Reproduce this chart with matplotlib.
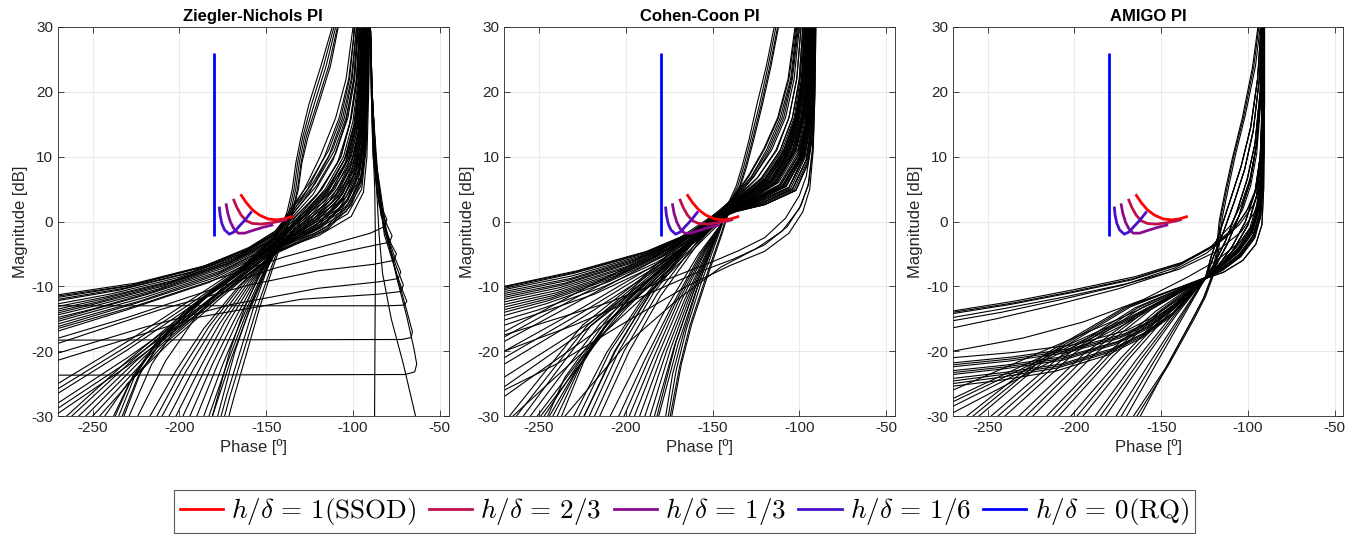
import matplotlib
matplotlib.use("Agg")
import matplotlib.pyplot as plt
from matplotlib.lines import Line2D

# ---------------- data (phase [deg], magnitude [dB]) ----------------
BOUND_LABELS = [r"$h/\delta\,=\,1(\mathrm{SSOD})$", r"$h/\delta\,=\,2/3$", r"$h/\delta\,=\,1/3$",
                r"$h/\delta\,=\,1/6$", r"$h/\delta\,=\,0(\mathrm{RQ})$"]
BOUND_COLORS = ["#FF0000", "#C0104A", "#8A0A90", "#4A10C8", "#0000FF"]
BOUND_1 = [(-164.8, 4.2), (-161.5, 2.9), (-158, 1.8), (-154, 1.0), (-149, 0.4), (-144, 0.25), (-139.5, 0.4), (-134.7, 0.8)]
BOUND_23 = [(-169, 3.5), (-167, 2.2), (-164.5, 1.0), (-161.5, 0.1), (-158, -0.3), (-153, -0.4), (-147, -0.2), (-142, 0.05), (-138.2, 0.3)]
BOUND_13 = [(-173.2, 2.8), (-172.2, 1.3), (-170.6, -0.1), (-168.5, -1.2), (-166.1, -1.8), (-162.5, -1.8), (-158, -1.4), (-152, -0.9), (-146, -0.5)]
BOUND_16 = [(-177.1, 2.3), (-176.6, 1.0), (-175.6, -0.3), (-174, -1.3), (-171.3, -1.95), (-168.5, -1.6), (-165.5, -0.7), (-162, 0.3), (-158.4, 1.55)]
BOUND_0 = [(-180, -2.3), (-180, 26)]

# ---- Ziegler-Nichols PI ----
ZN_S = [
    [(-100, 30), (-104, 22), (-110, 16), (-119, 10), (-128, 5), (-136, 1.5), (-145, -1.5), (-160, -4), (-185, -6.8), (-225, -9.5), (-270, -11.3)],
    [(-99, 30), (-102.5, 22), (-108, 16), (-116.5, 10), (-126.5, 4.8), (-135.5, 1.2), (-145, -1.6), (-161, -4.3), (-187, -7), (-227, -9.8), (-270, -11.5)],
    [(-98, 30), (-101, 22), (-106, 16), (-114, 10), (-125, 4.5), (-135, 1), (-145, -1.8), (-162, -4.5), (-190, -7.3), (-230, -10), (-270, -11.7)],
    [(-97, 30), (-99.5, 22), (-104, 15.5), (-111.5, 9.5), (-123, 4.2), (-134.5, 0.8), (-145, -1.9), (-163, -4.8), (-192, -7.7), (-232, -10.3), (-270, -12)],
    [(-96, 30), (-98, 22), (-102, 15), (-109, 9), (-121, 4), (-134, 0.6), (-145, -2), (-165, -5), (-195, -8), (-235, -10.6), (-270, -12.2)],
    [(-95, 30), (-96, 21), (-99, 14), (-105, 8.5), (-118, 3.5), (-133, 0.3), (-146, -2.3), (-168, -5.5), (-200, -8.6), (-240, -11.2), (-270, -12.7)],
    [(-94.5, 30), (-95.5, 20.5), (-98, 13.5), (-103.5, 8.2), (-116, 3.2), (-132, 0), (-146, -2.5), (-169, -5.8), (-202, -9), (-242, -11.6), (-270, -13.1)],
    [(-94, 30), (-95, 20), (-97, 13), (-102, 8), (-114, 3), (-131, -0.2), (-146, -2.7), (-170, -6), (-205, -9.3), (-245, -12), (-270, -13.5)],
    [(-93.5, 30), (-94.5, 20), (-96.5, 12.5), (-101, 7.5), (-112.5, 2.8), (-130, -0.4), (-146.5, -2.9), (-171, -6.3), (-207, -9.6), (-247, -12.4), (-270, -13.8)],
    [(-93, 30), (-94, 20), (-96, 12), (-100, 7), (-111, 2.5), (-129, -0.6), (-147, -3.1), (-172, -6.5), (-210, -10), (-250, -12.8), (-270, -14.1)],
    [(-92.5, 30), (-93.5, 20), (-95, 12), (-99, 6.8), (-109.5, 2.2), (-128, -0.8), (-147, -3.3), (-173.5, -6.8), (-212, -10.4), (-250, -13.1), (-270, -14.4)],
    [(-92, 30), (-93, 20), (-94.5, 12), (-98, 6.5), (-108, 2), (-127, -1), (-147, -3.5), (-175, -7.2), (-215, -10.8), (-250, -13.5), (-270, -14.8)],
    [(-91.8, 30), (-92.5, 20), (-94, 11.5), (-97, 6.2), (-106.5, 1.9), (-126, -1.2), (-147.5, -3.8), (-176, -7.6), (-218, -11.2), (-270, -15.1)],
    [(-91.5, 30), (-92, 20), (-93.5, 11), (-96, 6), (-105, 1.8), (-125, -1.5), (-148, -4), (-178, -8), (-220, -11.7), (-270, -15.4)],
    [(-91.2, 30), (-91.8, 20), (-93, 11), (-95.5, 5.5), (-104, 1.5), (-123.5, -1.6), (-148, -4.3), (-179, -8.3), (-222, -12.2), (-270, -15.8)],
    [(-91, 30), (-91.5, 20), (-92.5, 11), (-95, 5), (-103, 1.2), (-122, -1.8), (-148, -4.5), (-180, -8.7), (-225, -12.6), (-270, -16.2)],
    [(-90.5, 30), (-91, 20), (-92, 10), (-94, 4.5), (-101, 0.8), (-120, -2.2), (-149, -5), (-183, -9.4), (-230, -13.6), (-270, -16.9)],
]
ZN_HOOKS = [
    [(-90, 30), (-89.5, 20), (-88.5, 10), (-86, 4), (-82.5, 1.5), (-80.5, 0.3), (-82, -0.8), (-90, -1.8), (-110, -3.3), (-140, -5.5), (-180, -9), (-225, -13), (-270, -16.5)],
    [(-90, 30), (-89.5, 20), (-88, 10), (-85, 2.5), (-80, -0.8), (-77.5, -2.2), (-79, -3.2), (-90, -3.8), (-115, -5.2), (-145, -7.2), (-185, -10.8), (-230, -14.8), (-270, -18)],
    [(-90, 30), (-89, 20), (-87.5, 10), (-84, 1), (-78, -3.5), (-75, -5), (-76.5, -6), (-88, -6.6), (-120, -7.6), (-160, -9.8), (-210, -13.5), (-270, -18.8)],
    [(-90, 30), (-89, 20), (-87, 10), (-83, 0), (-76, -5.5), (-72.5, -7.8), (-74, -8.8), (-85, -9.3), (-120, -10.3), (-170, -12.8), (-220, -16.3), (-270, -20.3)],
    [(-90, 30), (-89, 20), (-87, 10), (-82.5, -1), (-75, -7), (-71, -9.8), (-72.5, -10.8), (-85, -11.2), (-130, -12), (-190, -14.8), (-270, -21.4)],
    [(-90, 30), (-89, 20), (-87, 10), (-82, -2), (-75, -8), (-71, -11), (-69, -12.3), (-70.5, -12.9), (-80, -13.0), (-270, -13.0)],
    [(-90, 30), (-89, 20), (-86.5, 8), (-81, -2), (-74, -9), (-69, -13.8), (-65.8, -17), (-66.5, -17.9), (-72, -18.2), (-270, -18.3)],
    [(-90, 30), (-89.2, 20), (-86, 8), (-81, -1), (-75, -8.5), (-69, -14.7), (-65, -19.5), (-63.3, -22), (-64.5, -23.2), (-70, -23.6), (-270, -23.7)],
]
ZN_DROPS = [
    [(-90, 30), (-89, 15), (-87.5, 5), (-87, -5), (-87.3, -15), (-87.6, -30)],
    [(-90, 30), (-89, 18), (-87, 8), (-85, -2), (-83, -8), (-78, -15), (-71, -22), (-64, -30)],
]
ZN_STEEP = [
    [(-108.5, 30), (-113, 24), (-120, 18), (-126, 13), (-129.5, 9), (-131.5, 5), (-134.5, 1.5), (-139.5, -2), (-146, -7), (-153.5, -13), (-161, -20), (-168.5, -27), (-171.5, -30)],
    [(-109, 30), (-114, 24), (-121, 18), (-127, 13), (-130, 9), (-132, 5), (-135, 1.5), (-140, -2), (-147, -7), (-155, -13), (-163, -20), (-171, -27), (-174, -30)],
    [(-110, 30), (-115.5, 24), (-122.5, 18), (-128, 13), (-131, 9), (-133, 5), (-136, 1.5), (-141, -2), (-149, -7), (-157, -13), (-165, -20), (-173, -27), (-176, -30)],
    [(-111, 30), (-117, 24), (-124, 18), (-129, 13), (-132, 9), (-134, 5), (-137, 1.5), (-142, -2), (-150, -7), (-159, -13), (-168, -20), (-175, -27), (-178, -30)],
    [(-112, 30), (-118.5, 24), (-125.5, 18), (-130, 13), (-133, 9), (-135, 5), (-138, 1.5), (-143, -2), (-152, -7), (-162, -13), (-171, -20), (-178, -27), (-181, -30)],
]
ZN_FAN = [
    [(-95, 30), (-96, 22), (-99, 15), (-104, 10), (-115, 5), (-128, 1.5), (-140, -2.5), (-150, -7.5), (-160, -14), (-170, -21), (-181, -30)],
    [(-96.5, 30), (-98, 22), (-101.5, 15.5), (-107, 10), (-118, 5), (-130, 1.2), (-141, -2.2), (-151, -7.8), (-162, -14.5), (-172, -21.5), (-183, -30)],
    [(-94, 30), (-95, 22), (-97.5, 15), (-102, 10), (-112, 5), (-126, 1), (-140, -2.8), (-152, -8), (-164, -15), (-175, -22), (-186, -30)],
    [(-93.5, 30), (-94.5, 22), (-97, 15), (-101, 10), (-110.5, 5), (-125, 0.8), (-140.5, -3), (-153.5, -8.2), (-166, -15), (-178, -22), (-190, -30)],
    [(-93, 30), (-94, 22), (-96, 15), (-100, 10), (-109, 5), (-124, 0.5), (-141, -3.2), (-155, -8.5), (-168, -15), (-181, -22), (-194, -30)],
    [(-92.8, 30), (-93.5, 22), (-95.5, 14.5), (-99.5, 9.5), (-108, 4.8), (-123, 0.3), (-141.5, -3.4), (-156.5, -8.8), (-171, -15.2), (-184.5, -22.3), (-198, -30)],
    [(-92.5, 30), (-93, 22), (-95, 14), (-99, 9), (-107, 4.5), (-122, 0.2), (-142, -3.6), (-158, -9), (-174, -15.5), (-188, -22.5), (-202, -30)],
    [(-92.2, 30), (-92.8, 22), (-94.5, 14), (-98, 8.8), (-106, 4.2), (-121, 0), (-142.5, -3.8), (-160, -9.3), (-177, -15.8), (-192, -22.8), (-206, -30)],
    [(-92, 30), (-92.5, 22), (-94, 14), (-97, 8.5), (-105, 4), (-120, -0.2), (-143, -4), (-162, -9.5), (-180, -16), (-196, -23), (-210, -30)],
    [(-91.8, 30), (-92.2, 22), (-93.8, 13.5), (-96.5, 8.2), (-104, 3.8), (-119, -0.4), (-143.5, -4.2), (-164, -9.7), (-183, -16.2), (-199, -23), (-213, -30)],
    [(-91.5, 30), (-92, 22), (-93.5, 13), (-96, 8), (-103, 3.5), (-118, -0.6), (-144, -4.3), (-166, -10), (-186, -16.5), (-202, -23), (-217, -30)],
    [(-97, 30), (-99, 22), (-103, 16), (-110, 10.5), (-121, 5.5), (-133, 1.8), (-144, -2), (-168, -8), (-190, -14.5), (-208, -21.5), (-224, -30)],
    [(-97.5, 30), (-99.5, 22), (-104, 16), (-111, 10.8), (-122, 5.8), (-134, 1.9), (-145, -2.5), (-166, -7.7), (-184, -11.5), (-201, -16), (-216, -22), (-229, -30)],
    [(-98, 30), (-100.5, 22), (-105, 16), (-112, 11), (-123, 6), (-135, 2), (-147, -3.5), (-163, -7.3), (-178, -10), (-194, -13.5), (-208, -17.5), (-222, -23), (-232, -30)],
    [(-99, 30), (-102, 22), (-107, 16), (-114, 11), (-125, 6), (-136, 2), (-147, -3.2), (-164, -7.5), (-179, -10.3), (-195, -13.9), (-210, -18.2), (-224, -24), (-233, -30)],
    [(-95, 30), (-96.5, 22), (-99.5, 15), (-105, 9.5), (-116, 4.5), (-131, 0.6), (-148, -4.2), (-166, -8), (-182, -11), (-198, -14.5), (-213, -18.7), (-226, -24), (-235, -30)],
    [(-94, 30), (-95.5, 22), (-98.5, 15), (-104, 9.3), (-115, 4.3), (-130, 0.4), (-148, -4.4), (-167, -8.3), (-184, -11.6), (-200, -15.2), (-215, -19.5), (-228, -24.5), (-237, -30)],
    [(-96, 30), (-97.5, 22), (-101, 16), (-107, 10), (-118, 5), (-132, 1), (-148, -4), (-165, -7.5), (-180, -10.3), (-196, -13.6), (-211, -17.7), (-227, -23.9), (-238, -30)],
    [(-91, 30), (-91.5, 22), (-93, 13), (-95.5, 7), (-102, 3), (-116, -1), (-145, -4.8), (-175, -11.5), (-205, -18.5), (-230, -25), (-243, -30)],
    [(-90.8, 30), (-91.3, 22), (-92.8, 12.5), (-95.2, 6.8), (-101.5, 2.8), (-115.5, -1.2), (-145, -4.9), (-178, -11.8), (-210, -19.2), (-246, -30)],
    [(-90.5, 30), (-91, 22), (-92.5, 12), (-95, 6.5), (-101, 2.5), (-115, -1.3), (-145, -5), (-180, -12), (-215, -20), (-250, -30)],
    [(-91.3, 30), (-91.8, 22), (-93.5, 13), (-96.5, 7.2), (-103, 3.2), (-118, -0.9), (-145.5, -4.7), (-183, -12.2), (-220, -20.8), (-254, -30)],
    [(-92, 30), (-93, 22), (-95, 14), (-98, 8), (-106, 3.5), (-121, -0.5), (-146, -4.5), (-185, -12.5), (-225, -21.5), (-258, -30)],
    [(-93, 30), (-94, 22), (-96.5, 14), (-100, 8.7), (-108.5, 3.8), (-123.5, 0.2), (-146, -4.3), (-188, -12.4), (-228, -21.6), (-262, -30)],
    [(-93.5, 30), (-94.5, 22), (-97, 14), (-101, 9), (-110, 4), (-125, 0.5), (-146, -4), (-190, -12.5), (-230, -21.5), (-265, -30)],
    [(-94.5, 30), (-95.5, 22), (-98, 15), (-103, 9.5), (-113, 4.5), (-127, 1), (-145, -3.5), (-190, -11.5), (-230, -18.5), (-270, -25)],
    [(-95.5, 30), (-96.5, 22), (-99, 15.2), (-104.5, 9.8), (-114.5, 4.8), (-128, 1.1), (-145.5, -3.6), (-190, -12), (-230, -19.2), (-270, -25.8)],
    [(-96, 30), (-97, 22), (-100, 15.5), (-105.5, 10), (-116, 5), (-129, 1.2), (-146, -3.8), (-190, -12.5), (-230, -19.8), (-270, -26.5)],
    [(-92.5, 30), (-93.5, 22), (-95.5, 14), (-99, 8.5), (-108, 3.5), (-123, -0.2), (-146, -4.2), (-190, -13.5), (-230, -21), (-270, -28)],
    [(-92, 30), (-93, 22), (-95, 13.5), (-98.5, 8), (-106, 3.3), (-121, -0.5), (-146, -4.4), (-190, -13.9), (-230, -21.7), (-270, -28.8)],
    [(-91.5, 30), (-92, 22), (-94, 13), (-97, 7.5), (-104, 3), (-119, -0.8), (-146, -4.6), (-190, -14.3), (-230, -22.3), (-270, -29.6)],
]

# ---- Cohen-Coon PI ----
CC_S = [
    [(-102, 30), (-106, 22), (-112, 16), (-120, 11.2), (-128.5, 7.2), (-135, 4.7), (-140, 3.2), (-149.5, 0.7), (-164, -1.9), (-188, -4.6), (-228, -7.6), (-270, -10)],
    [(-101, 30), (-104.5, 22), (-110, 16), (-118, 11), (-127, 7), (-134.5, 4.6), (-140, 3.1), (-150, 0.6), (-164.5, -2), (-189, -4.8), (-229, -7.8), (-270, -10.1)],
    [(-100, 30), (-103, 22), (-108, 16), (-116, 11), (-126, 7), (-134, 4.5), (-140, 3), (-150, 0.5), (-165, -2.2), (-190, -5), (-230, -8), (-270, -10.3)],
    [(-99, 30), (-101.5, 22), (-106, 16), (-113.5, 11), (-124, 6.8), (-133.5, 4.2), (-140, 2.9), (-150.5, 0.3), (-166, -2.4), (-191.5, -5.3), (-231, -8.4), (-270, -10.5)],
    [(-98, 30), (-100, 22), (-104, 16), (-111, 11), (-122, 6.5), (-133, 4), (-140, 2.8), (-151, 0.2), (-167, -2.6), (-193, -5.6), (-232, -8.8), (-270, -10.8)],
    [(-97, 30), (-98.8, 22), (-102.5, 16), (-109, 11), (-120, 6.5), (-132, 3.9), (-140, 2.7), (-151.5, 0), (-168, -2.8), (-194.5, -5.9), (-233.5, -9.1), (-270, -11.1)],
    [(-96, 30), (-97.5, 22), (-101, 16), (-107, 11), (-118, 6.5), (-131, 3.8), (-140, 2.6), (-152, -0.2), (-169, -3), (-196, -6.2), (-235, -9.5), (-270, -11.4)],
    [(-95.5, 30), (-96.8, 22), (-99.8, 16), (-105.5, 11), (-116.5, 6.3), (-130.5, 3.7), (-140, 2.5), (-152.5, -0.4), (-170, -3.2), (-197.5, -6.5), (-236.5, -9.8), (-270, -11.7)],
    [(-95, 30), (-96, 22), (-98.5, 16), (-104, 11), (-115, 6.2), (-130, 3.6), (-140, 2.4), (-153, -0.6), (-171, -3.5), (-199, -6.9), (-238, -10.2), (-270, -12)],
    [(-94.5, 30), (-95.5, 22), (-97.8, 16), (-102.5, 11), (-113.5, 6.1), (-129, 3.5), (-140, 2.3), (-153.5, -0.8), (-172.5, -3.8), (-200.5, -7.2), (-239, -10.6), (-270, -12.4)],
    [(-94, 30), (-95, 22), (-97, 16), (-101, 11), (-112, 6), (-128, 3.4), (-140, 2.2), (-154, -1), (-174, -4.1), (-202, -7.6), (-240, -11), (-270, -12.8)],
    [(-93.5, 30), (-94.2, 22), (-96, 15.5), (-100, 10.5), (-110.5, 5.7), (-127, 3.3), (-140, 2.1), (-154.5, -1.2), (-175.5, -4.4), (-204, -8), (-241.5, -11.4), (-270, -13.2)],
    [(-93, 30), (-93.5, 22), (-95, 15), (-99, 10), (-109, 5.5), (-126, 3.2), (-140, 2), (-155, -1.5), (-177, -4.8), (-206, -8.4), (-243, -11.8), (-270, -13.6)],
    [(-92.5, 30), (-93, 22), (-94.5, 15), (-98, 10), (-107.5, 5.4), (-125, 3.1), (-140, 1.9), (-155.5, -1.7), (-178.5, -5.2), (-208, -8.8), (-244.5, -12.2), (-270, -14)],
    [(-92, 30), (-92.5, 22), (-94, 15), (-97, 10), (-106, 5.3), (-124, 3), (-140, 1.8), (-156, -2), (-180, -5.6), (-210, -9.3), (-246, -12.7), (-270, -14.5)],
    [(-91.5, 30), (-92, 22), (-93, 15), (-96, 9.5), (-104, 5), (-122, 2.8), (-140, 1.6), (-157, -2.5), (-183, -6.4), (-214, -10.2), (-250, -13.6), (-270, -15.2)],
    [(-91, 30), (-91.5, 22), (-92.5, 14), (-95, 9), (-102, 4.8), (-120, 2.6), (-140, 1.4), (-159, -3), (-186, -7.2), (-218, -11.2), (-270, -16)],
]
CC_KNEE = [
    [(-91, 30), (-91.5, 20), (-93, 12), (-96, 7), (-100, 4), (-108, 0.5), (-120, -2.5), (-135, -4.5), (-150, -6.2), (-175, -8.8), (-210, -12.5), (-270, -17.5)],
    [(-90.5, 30), (-91, 20), (-92, 12), (-94.5, 6), (-99, 2.5), (-107, -0.8), (-120, -3.6), (-138, -5.8), (-160, -8), (-190, -11.5), (-230, -16), (-270, -20)],
    [(-90.5, 30), (-91, 20), (-92, 11), (-94, 5), (-98, 1.5), (-106, -1.8), (-120, -4.6), (-140, -6.8), (-165, -10), (-200, -15.5), (-240, -22), (-270, -26)],
    [(-91, 30), (-91.5, 20), (-92.5, 11), (-95, 5.5), (-100, 2), (-110, -1.5), (-125, -4.2), (-145, -7), (-170, -12), (-200, -19), (-235, -30)],
]
CC_STEEP = [
    [(-112, 30), (-116.3, 24), (-121.3, 18), (-126.3, 12.6), (-130.3, 8.5), (-134, 5.4), (-138.5, 3.4), (-144.3, -1.7), (-154, -9.3), (-162, -15.8), (-168, -22), (-173.5, -30)],
    [(-112.5, 30), (-117, 24), (-122, 18), (-127, 12.6), (-131, 8.5), (-134.5, 5.4), (-139, 3.3), (-145, -1.8), (-155, -9.5), (-163, -16), (-169, -22.4), (-174.4, -30)],
    [(-113.5, 30), (-118, 24), (-123, 18), (-128, 12.6), (-132, 8.5), (-135.5, 5.4), (-140, 3), (-146.5, -2), (-157, -9.8), (-165, -16.5), (-171, -23), (-175.5, -30)],
    [(-114.5, 30), (-119, 24), (-124.5, 18), (-129, 12.6), (-133, 8.5), (-136.5, 5.4), (-141, 2.8), (-148, -2.2), (-158.5, -10), (-166.5, -17), (-173, -23.5), (-177, -30)],
]
CC_FAN = [
    [(-101.5, 30), (-105, 22), (-111, 16), (-119, 11), (-127.5, 7), (-135, 4.6), (-140, 3), (-150, -3.5), (-160.5, -10.5), (-171, -18.5), (-182, -30)],
    [(-96, 30), (-97.5, 22), (-101, 16), (-107, 11), (-118, 6.5), (-131, 4), (-141, 2), (-150, -4), (-160, -11), (-170, -19), (-181, -30)],
    [(-95.8, 30), (-97, 22), (-100.5, 16), (-106, 11), (-117, 6.4), (-130.5, 3.9), (-141, 1.9), (-151, -4.2), (-161.5, -11.2), (-172, -19.2), (-183.5, -30)],
    [(-95, 30), (-96, 22), (-99, 16), (-105, 11), (-116, 6.2), (-130, 3.8), (-141, 1.8), (-152, -4.5), (-163, -11.5), (-174, -19.5), (-186, -30)],
    [(-94.5, 30), (-95.5, 22), (-98, 16), (-103.5, 11), (-114.5, 6.1), (-129, 3.6), (-141, 1.7), (-152.5, -4.5), (-164.5, -11.8), (-176.5, -20), (-189, -30)],
    [(-94, 30), (-95, 22), (-97.5, 16), (-102, 11), (-113, 6), (-128, 3.5), (-141, 1.6), (-153, -4.5), (-166, -12), (-179, -20.5), (-192, -30)],
    [(-93.5, 30), (-94.5, 22), (-96.8, 15.5), (-101, 10.5), (-111.5, 5.7), (-127.5, 3.4), (-141, 1.5), (-154, -4.6), (-168, -12.2), (-181.5, -20.7), (-195, -30)],
    [(-93, 30), (-94, 22), (-96, 15), (-100, 10), (-110, 5.5), (-127, 3.3), (-141, 1.4), (-155, -4.8), (-170, -12.5), (-184, -21), (-198, -30)],
    [(-92.8, 30), (-93.5, 22), (-95.5, 15), (-99.2, 10), (-109, 5.4), (-126, 3.2), (-141, 1.3), (-156, -4.9), (-171.5, -12.6), (-186.5, -21.1), (-201, -30)],
    [(-92.5, 30), (-93, 22), (-95, 15), (-98.5, 10), (-108, 5.4), (-125, 3.1), (-141, 1.2), (-157, -5), (-173, -12.8), (-189, -21.3), (-204, -30)],
    [(-92, 30), (-92.5, 22), (-94, 15), (-97.5, 10), (-106, 5.2), (-124, 3), (-141, 1), (-158, -5), (-176, -13), (-193, -21.5), (-209, -30)],
    [(-97, 30), (-98.5, 22), (-102, 16), (-109, 11), (-120, 6.6), (-132, 4.1), (-140, 2.6), (-160, -4), (-180, -11.5), (-198, -20), (-215, -30)],
    [(-98, 30), (-100, 22), (-104, 16), (-111, 11), (-122, 6.7), (-133, 4.2), (-140, 2.7), (-161, -3.8), (-182, -11.2), (-201, -20), (-218, -30)],
    [(-99, 30), (-101.5, 22), (-106, 16), (-113, 11), (-124, 6.8), (-134, 4.3), (-140, 2.8), (-162, -3.5), (-184, -11), (-204, -20), (-221, -30)],
    [(-100.5, 30), (-104, 22), (-109, 16), (-117, 11), (-126, 7), (-134, 4.4), (-140, 2.9), (-163, -3.3), (-186, -11), (-206, -20), (-224, -30)],
    [(-95, 30), (-96, 22), (-99, 16), (-104, 11), (-115.5, 6.2), (-130, 3.8), (-140, 2.4), (-163, -3.6), (-186, -11.2), (-206.5, -20), (-224, -30)],
    [(-94.5, 30), (-95.5, 22), (-98, 16), (-103, 11), (-114, 6.1), (-129, 3.7), (-140, 2.3), (-164, -3.8), (-188, -11.5), (-209, -20), (-227, -30)],
    [(-94, 30), (-95, 22), (-97.5, 16), (-102, 11), (-113, 6), (-128, 3.5), (-140, 2.2), (-166, -4), (-190, -11.8), (-211, -20.2), (-230, -30)],
    [(-96.5, 30), (-98, 22), (-101.5, 16), (-108, 11), (-119, 6.5), (-132, 4), (-140, 2.5), (-160, -2.5), (-181, -7.5), (-196, -11.3), (-210, -15.5), (-224, -21.5), (-237, -30)],
    [(-97, 30), (-98.5, 22), (-102, 16), (-108.5, 11), (-119.5, 6.5), (-132, 4), (-140, 2.5), (-161, -2.7), (-183.5, -8.2), (-197.5, -11.7), (-212.5, -16.3), (-226, -22.2), (-239.5, -30)],
    [(-95.5, 30), (-96.5, 22), (-100, 16), (-105.5, 11), (-117, 6.3), (-131, 3.9), (-140, 2.4), (-162, -3), (-186, -9), (-199, -12.1), (-215, -17.2), (-228, -22.9), (-242, -30)],
    [(-96, 30), (-97, 22), (-100.5, 16), (-106.5, 11), (-118, 6.4), (-131.5, 3.9), (-140, 2.4), (-163, -3.2), (-188, -9.5), (-201, -12.8), (-217, -18), (-230, -23.6), (-244, -30)],
    [(-102.5, 30), (-106.5, 22), (-112.5, 16), (-120.5, 11.2), (-129, 7.2), (-135.5, 4.7), (-140, 3.1), (-165, -2.5), (-190, -8.5), (-212, -15.5), (-235, -24), (-245, -30)],
    [(-93.5, 30), (-94.5, 22), (-96.5, 15), (-101, 10), (-111, 5.6), (-127, 3.3), (-140, 2), (-170, -5.5), (-200, -13.5), (-225, -21), (-247, -30)],
    [(-93, 30), (-93.8, 22), (-95.5, 15), (-99.5, 10), (-109.5, 5.5), (-126, 3.2), (-140, 1.9), (-172, -6), (-205, -14.5), (-249, -30)],
    [(-92, 30), (-92.5, 22), (-94, 15), (-97.5, 10), (-106, 5.2), (-124, 3), (-140, 1.7), (-175, -6.5), (-210, -15.5), (-251, -30)],
    [(-91.8, 30), (-92.3, 22), (-93.5, 15), (-96.8, 9.8), (-105, 5.1), (-123, 2.9), (-140, 1.6), (-178, -6.8), (-215, -15.8), (-255, -30)],
    [(-91.5, 30), (-92, 22), (-93, 15), (-96, 9.5), (-104, 5), (-122, 2.8), (-140, 1.5), (-180, -7), (-220, -16), (-259, -30)],
    [(-91.2, 30), (-91.8, 22), (-92.8, 14.5), (-95.5, 9.2), (-103, 4.9), (-121, 2.7), (-140, 1.4), (-183, -7.3), (-222, -16), (-263, -30)],
    [(-91, 30), (-91.5, 22), (-92.5, 14), (-95, 9), (-102, 4.8), (-120, 2.6), (-140, 1.3), (-185, -7.5), (-225, -16), (-267, -30)],
    [(-97.5, 30), (-99.5, 22), (-103, 16), (-110, 11), (-121, 6.6), (-133, 4.2), (-140, 2.7), (-180, -4.5), (-225, -10.5), (-270, -17)],
    [(-96.5, 30), (-98, 22), (-101.5, 16), (-107.5, 11), (-118.5, 6.4), (-131.5, 4), (-140, 2.5), (-180, -5), (-225, -11.2), (-270, -17.8)],
    [(-95, 30), (-96, 22), (-99, 16), (-105, 11), (-116, 6.2), (-130, 3.8), (-140, 2.3), (-180, -5.5), (-225, -12), (-270, -18.5)],
    [(-93.5, 30), (-94.5, 22), (-96.5, 15), (-101, 10), (-111, 5.6), (-127, 3.3), (-140, 2), (-180, -6.2), (-225, -13.3), (-270, -20)],
    [(-93, 30), (-93.8, 22), (-95.8, 15), (-99.8, 10), (-109.5, 5.5), (-126, 3.2), (-140, 1.9), (-180, -6.6), (-225, -14), (-270, -21)],
    [(-92.5, 30), (-93, 22), (-95, 15), (-98.5, 10), (-108, 5.4), (-125, 3.1), (-140, 1.8), (-180, -7), (-225, -14.8), (-270, -22)],
    [(-94, 30), (-95, 22), (-97.5, 16), (-102, 11), (-113, 6), (-128, 3.5), (-140, 2.1), (-175, -6.5), (-220, -15.5), (-270, -24)],
    [(-92, 30), (-92.5, 22), (-94, 15), (-97.5, 10), (-106, 5.2), (-124, 3), (-140, 1.7), (-177, -7), (-222, -16.5), (-270, -25.5)],
    [(-91.5, 30), (-92, 22), (-93, 15), (-96, 9.5), (-104, 5), (-122, 2.8), (-140, 1.6), (-175, -7.5), (-220, -17.5), (-270, -27)],
    [(-91, 30), (-91.5, 22), (-92.5, 14), (-95, 9), (-102, 4.8), (-120, 2.6), (-140, 1.3), (-175, -8), (-220, -19), (-265, -30)],
]

# ---- AMIGO PI ----
AM_UPPER = [
    [(-91, 30), (-91, 18), (-91.5, 10), (-93, 5.5), (-97, 2.5), (-105, -0.5), (-118, -3.5), (-138, -6.3), (-165, -8.5), (-200, -10.5), (-235, -12.3), (-270, -13.8)],
    [(-91.2, 30), (-91.5, 18), (-92.5, 10), (-95, 5.2), (-99.5, 2.2), (-107, -0.8), (-119, -3.7), (-139, -6.5), (-166, -8.8), (-201, -10.8), (-236, -12.6), (-270, -14.0)],
    [(-91.5, 30), (-92.5, 20), (-95, 12), (-99, 6.5), (-104, 2.6), (-110, -0.6), (-121, -3.8), (-140, -6.7), (-167, -9), (-202, -11), (-237, -12.8), (-270, -14.2)],
    [(-90.5, 30), (-90.5, 18), (-91, 10), (-92.5, 5), (-96, 1.5), (-104, -1.6), (-118, -4.6), (-140, -7.4), (-170, -9.6), (-205, -11.6), (-240, -13.4), (-270, -14.8)],
    [(-91.8, 30), (-92.8, 18), (-95, 10.5), (-98.5, 5.5), (-103, 1.9), (-110, -1.4), (-123, -4.3), (-142.5, -7.2), (-172, -9.8), (-207, -12), (-242, -14), (-270, -15.3)],
    [(-92, 30), (-92, 18), (-93, 10), (-95.5, 5), (-101, 1.5), (-110, -1.8), (-124, -4.9), (-145, -7.8), (-175, -10.4), (-210, -12.8), (-245, -15), (-270, -16.4)],
    [(-90.5, 30), (-90.5, 18), (-91, 9), (-92.5, 3.5), (-96, 0), (-104, -3), (-118, -6), (-135, -8.6), (-160, -12), (-195, -15.5), (-230, -18), (-270, -20)],
]
AM_MID = [
    [(-91, 30), (-91.3, 18), (-92.5, 10), (-95, 4), (-100, -0.5), (-108, -4.2), (-116, -7), (-124.5, -8.6), (-140, -12), (-155, -14.8), (-170, -16.8), (-200, -19), (-235, -20.2), (-270, -21)],
    [(-91.5, 30), (-92.5, 20), (-95, 12), (-99, 6), (-105, 1), (-112, -3.5), (-118, -6.5), (-124.5, -8.6), (-140, -12.3), (-156, -15.3), (-172, -17.4), (-202, -19.6), (-236, -20.9), (-270, -21.8)],
    [(-90.8, 30), (-90.8, 15), (-91.3, 6), (-92.5, 1), (-96, -2.5), (-104, -5.4), (-114.5, -7.5), (-124.5, -8.7), (-140.5, -12.5), (-156.5, -15.5), (-173, -17.7), (-203, -19.9), (-236.5, -21.2), (-270, -22.1)],
    [(-92, 30), (-93.5, 22), (-97, 14), (-102, 8), (-108, 3), (-114, -1.5), (-120, -5.5), (-124.5, -8.7), (-141, -12.8), (-157, -15.8), (-174, -18), (-204, -20.2), (-237, -21.5), (-270, -22.4)],
    [(-91.3, 30), (-91.6, 18), (-93, 10), (-96, 4.5), (-101.5, 0), (-109, -3.8), (-117, -6.8), (-124.5, -8.7), (-142, -13.2), (-158, -16.2), (-175, -18.5), (-205, -20.8), (-238, -22.1), (-270, -23)],
    [(-91.8, 30), (-93, 20), (-96, 12), (-100.5, 6.5), (-106.5, 1.5), (-113, -3), (-119, -6.3), (-124.5, -8.8), (-142.5, -13.4), (-158.5, -16.4), (-176, -18.7), (-206, -21.1), (-239, -22.4), (-270, -23.3)],
    [(-90.6, 30), (-90.6, 15), (-91, 5), (-92, -0.5), (-95.5, -3.5), (-103, -6), (-114, -7.8), (-124.5, -8.8), (-143, -13.6), (-159, -16.7), (-177, -19), (-207, -21.4), (-240, -22.7), (-270, -23.6)],
    [(-92.5, 30), (-94.5, 22), (-98.5, 14.5), (-104, 8.5), (-110, 3.5), (-115.5, -1), (-121, -5.2), (-124.5, -8.6), (-143, -14), (-160, -17.2), (-178, -19.6), (-208, -22), (-241, -23.3), (-270, -24.2)],
    [(-91, 30), (-91.3, 18), (-92.5, 10), (-95, 4), (-100, -0.5), (-108, -4.2), (-116, -7), (-124.5, -8.6), (-143.5, -14.2), (-160.5, -17.4), (-179, -19.9), (-209, -22.3), (-241.5, -23.6), (-270, -24.6)],
    [(-91, 30), (-91, 15), (-91.7, 6.5), (-93.3, 1.2), (-97.3, -2.4), (-105, -5.4), (-115.5, -7.6), (-124.5, -8.8), (-144, -14.4), (-161, -17.7), (-180, -20.2), (-210, -22.6), (-242, -24), (-270, -25)],
    [(-91.5, 30), (-92.5, 20), (-95, 12), (-99, 6), (-105, 1), (-112, -3.5), (-118, -6.5), (-124.5, -8.9), (-144.5, -14.7), (-161.5, -18), (-181, -20.6), (-211, -23.1), (-243, -24.5), (-270, -25.4)],
]
AM_STEEP = [
    [(-93.8, 30), (-96.7, 23.9), (-102.5, 16.2), (-108.3, 10), (-112, 5.4), (-115.9, 0.3), (-117.8, -4.9), (-120.7, -8.5), (-125, -11.5), (-131.3, -14.7), (-144.8, -21.3), (-162, -30)],
    [(-93, 30), (-95.7, 24), (-101.5, 16.5), (-107.3, 10.2), (-111, 5.6), (-114.9, 0.5), (-117, -4.6), (-120, -8.3), (-124.5, -11.6), (-131, -15), (-145.5, -22), (-164, -30)],
    [(-94.3, 30), (-97.5, 23.7), (-103.3, 16), (-109, 9.8), (-112.8, 5.2), (-116.6, 0.1), (-118.5, -5.1), (-121.3, -8.7), (-126, -12), (-132.5, -15.3), (-147, -22.4), (-166, -30)],
]
AM_LOW = [
    [(-91, 30), (-91, 15), (-91.8, 7), (-93.5, 2), (-97.5, -1.5), (-105, -4.5), (-115, -6.8), (-124.5, -8.7), (-137, -14.5), (-152, -21.5), (-170, -30)],
    [(-92.5, 30), (-94.5, 22), (-98.5, 14.5), (-104, 8.5), (-110, 3.5), (-115.5, -1), (-121, -5.2), (-124.5, -8.7), (-138, -14.5), (-154, -21.5), (-173, -30)],
    [(-91.4, 30), (-91.7, 18), (-93, 10), (-96, 4.5), (-101.5, 0), (-109, -3.8), (-117, -6.8), (-124.5, -8.7), (-139, -14.5), (-156, -21.5), (-176, -30)],
    [(-90.7, 30), (-90.7, 15), (-91.4, 6), (-93, 0.8), (-97, -2.6), (-105, -5.3), (-115, -7.3), (-124.5, -8.7), (-141, -14.3), (-160, -21.3), (-182, -30)],
    [(-91.8, 30), (-93, 20), (-96, 12), (-100.5, 6.5), (-106.5, 1.5), (-113, -3), (-119, -6.3), (-124.5, -8.7), (-142, -14.3), (-162, -21.3), (-185, -30)],
    [(-91.8, 30), (-91.8, 15), (-92.6, 7), (-94.5, 2.3), (-98.5, -1.2), (-106, -4.3), (-116, -6.7), (-124.5, -8.7), (-143, -14.2), (-164, -21.2), (-188, -30)],
    [(-92, 30), (-93.5, 22), (-97, 14), (-102, 8), (-108, 3), (-114, -1.5), (-120, -5.5), (-124.5, -8.8), (-145, -14), (-168, -21), (-195, -30)],
    [(-90.8, 30), (-90.8, 15), (-91.5, 6), (-93, 0.5), (-97, -2.8), (-104.8, -5.5), (-114.8, -7.5), (-124.5, -8.8), (-146.5, -14), (-170.5, -21), (-198.5, -30)],
    [(-91, 30), (-91.3, 18), (-92.5, 10), (-95, 4), (-100, -0.5), (-108, -4.2), (-116, -7), (-124.5, -8.7), (-148, -14), (-173, -21), (-202, -30)],
    [(-90.6, 30), (-90.6, 15), (-91, 5), (-92, -0.5), (-95.5, -3.5), (-103, -6), (-114, -7.8), (-124.5, -8.8), (-150, -13.8), (-178, -20.8), (-209, -30)],
    [(-91.5, 30), (-92.5, 20), (-95, 12), (-99, 6), (-105, 1), (-112, -3.5), (-118, -6.5), (-124.5, -8.6), (-151.5, -13.9), (-180.5, -20.8), (-212.5, -30)],
    [(-92.2, 30), (-92.2, 15), (-93, 7), (-95, 2.5), (-99, -1), (-107, -4.1), (-117, -6.6), (-124.5, -8.6), (-153, -13.8), (-183, -20.8), (-216, -30)],
    [(-91, 30), (-91, 15), (-91.7, 6.5), (-93.3, 1.4), (-97.3, -2.2), (-105, -5), (-115, -7.1), (-124.5, -8.7), (-156, -13.6), (-189, -20.6), (-224, -30)],
    [(-91.3, 30), (-91.6, 18), (-93, 10), (-96, 4.5), (-101.5, 0), (-109, -3.8), (-117, -6.8), (-124.5, -8.7), (-157.5, -13.5), (-192, -20.5), (-228, -30)],
    [(-91.6, 30), (-91.6, 15), (-92.4, 7), (-94.2, 2), (-98.2, -1.5), (-106, -4.5), (-116, -6.9), (-124.5, -8.7), (-159, -13.5), (-195, -20.5), (-232, -30)],
    [(-92, 30), (-93.5, 22), (-97, 14), (-102, 8), (-108, 3), (-114, -1.5), (-120, -5.5), (-124.5, -8.8), (-162, -13.4), (-200, -20.3), (-240, -30)],
    [(-91.4, 30), (-91.4, 15), (-92.2, 7), (-94, 1.9), (-98, -1.6), (-105.8, -4.6), (-115.8, -6.9), (-124.5, -8.7), (-163.5, -13.3), (-203, -20.3), (-244, -30)],
    [(-91, 30), (-91.3, 18), (-92.5, 10), (-95, 4), (-100, -0.5), (-108, -4.2), (-116, -7), (-124.5, -8.7), (-165, -13.3), (-206, -20.3), (-248, -30)],
    [(-91.9, 30), (-91.9, 15), (-92.7, 7), (-94.6, 2.2), (-98.6, -1.3), (-106.5, -4.3), (-116.5, -6.7), (-124.5, -8.6), (-168, -13.2), (-212, -20.3), (-255, -30)],
    [(-91.8, 30), (-93, 20), (-96, 12), (-100.5, 6.5), (-106.5, 1.5), (-113, -3), (-119, -6.3), (-124.5, -8.7), (-169.5, -13.2), (-214, -20.3), (-258.5, -30)],
    [(-90.9, 30), (-90.9, 15), (-91.6, 6.5), (-93.1, 1.2), (-97.1, -2.3), (-105, -5.1), (-115, -7.2), (-124.5, -8.7), (-171, -13.2), (-216, -20.3), (-262, -30)],
    [(-91.4, 30), (-91.4, 15), (-92.2, 7), (-94, 2), (-98, -1.6), (-105.5, -4.6), (-115.5, -6.9), (-124.5, -8.7), (-170, -14.5), (-220, -20.2), (-270, -26)],
    [(-91.5, 30), (-92.5, 20), (-95, 12), (-99, 6), (-105, 1), (-112, -3.5), (-118, -6.5), (-124.5, -8.7), (-170, -15), (-220, -21), (-270, -27.3)],
    [(-91.2, 30), (-91.2, 15), (-92, 7), (-93.7, 1.7), (-97.7, -1.9), (-105.5, -4.8), (-115.5, -7), (-124.5, -8.7), (-170, -15.2), (-220, -21.4), (-270, -27.8)],
    [(-92.5, 30), (-94.5, 22), (-98.5, 14.5), (-104, 8.5), (-110, 3.5), (-115.5, -1), (-121, -5.2), (-124.5, -8.6), (-170, -15.4), (-220, -21.8), (-270, -28.5)],
    [(-91.6, 30), (-91.6, 15), (-92.4, 7), (-94.2, 2), (-98.2, -1.5), (-106, -4.5), (-116, -6.9), (-124.5, -8.7), (-170, -15.7), (-220, -22.5), (-270, -29.5)],
]

TITLES = ["Ziegler-Nichols PI", "Cohen-Coon PI", "AMIGO PI"]
PANEL_CURVES = [ZN_S + ZN_HOOKS + ZN_DROPS + ZN_STEEP + ZN_FAN,
                CC_S + CC_KNEE + CC_STEEP + CC_FAN,
                AM_UPPER + AM_MID + AM_STEEP + AM_LOW]
BOUNDS = [BOUND_1, BOUND_23, BOUND_13, BOUND_16, BOUND_0]
X_TICKS = [-250, -200, -150, -100, -50]
Y_TICKS = [-30, -20, -10, 0, 10, 20, 30]

# ---------------- drawing ----------------
plt.rcParams['font.family'] = ['Liberation Sans', 'DejaVu Sans']
plt.rcParams['mathtext.fontset'] = 'cm'
plt.rcParams['axes.unicode_minus'] = False

W, H = 1363, 535
fig = plt.figure(figsize=(W / 100, H / 100), dpi=100)
lefts = [58, 504.3, 953]
TXT = '#262626'
for k in range(3):
    ax = fig.add_axes([lefts[k] / W, (H - 416) / H, 390.5 / W, 389 / H])
    for c in PANEL_CURVES[k]:
        ax.plot([p for p, m in c], [m for p, m in c], color='black', lw=0.8, solid_joinstyle='round')
    for b, col in zip(BOUNDS, BOUND_COLORS):
        ax.plot([p for p, m in b], [m for p, m in b], color=col, lw=2.0, solid_capstyle='butt')
    ax.set_xlim(-270, -45)
    ax.set_ylim(-30, 30)
    ax.set_xticks(X_TICKS)
    ax.set_yticks(Y_TICKS)
    ax.grid(True, color='#E6E6E6', lw=0.6)
    ax.set_axisbelow(True)
    ax.tick_params(direction='in', length=4, width=0.6, colors=TXT, labelsize=11,
                   top=True, right=True, labelcolor=TXT)
    for s in ax.spines.values():
        s.set_color(TXT)
        s.set_linewidth(0.6)
    ax.set_title(TITLES[k], fontsize=12, fontweight='bold', color='black', pad=4)
    ax.set_xlabel("Phase [º]", fontsize=12, color=TXT, labelpad=3)
    ax.set_ylabel("Magnitude [dB]", fontsize=12, color=TXT, labelpad=2)

handles = [Line2D([0], [0], color=c, lw=2.0) for c in BOUND_COLORS]
leg = fig.legend(handles, BOUND_LABELS, loc='center', bbox_to_anchor=(684.5 / W, (H - 511.5) / H),
                 ncol=5, frameon=True, fancybox=False, fontsize=19.5, handlelength=1.6,
                 handletextpad=0.3, columnspacing=0.45, borderpad=0.22, borderaxespad=0)
leg.get_frame().set_edgecolor('#333333')
leg.get_frame().set_linewidth(0.8)

fig.savefig("out.png", dpi=100)
